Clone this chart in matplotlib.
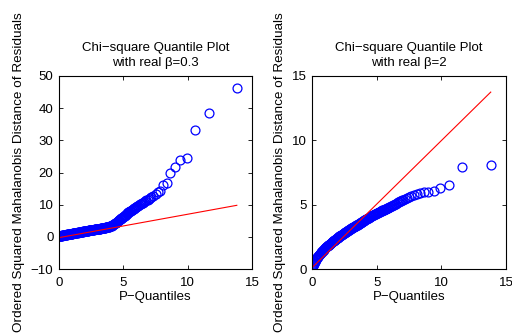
import matplotlib
matplotlib.use("Agg")
import matplotlib.pyplot as plt

plt.rcParams['font.family'] = ['Liberation Sans', 'DejaVu Sans']
plt.rcParams['font.size'] = 9.5

# chi-square (df=2) plotting positions shared by both panels
p_quantiles = [
    0.00, 0.04, 0.08, 0.12, 0.16, 0.20, 0.24, 0.28, 0.32, 0.36,
    0.40, 0.44, 0.48, 0.52, 0.56, 0.60, 0.64, 0.68, 0.72, 0.76,
    0.80, 0.84, 0.88, 0.92, 0.96, 1.00, 1.04, 1.08, 1.12, 1.16,
    1.20, 1.24, 1.28, 1.32, 1.36, 1.40, 1.44, 1.48, 1.52, 1.56,
    1.60, 1.64, 1.68, 1.72, 1.76, 1.80, 1.84, 1.88, 1.92, 1.96,
    2.00, 2.04, 2.08, 2.12, 2.16, 2.20, 2.24, 2.28, 2.32, 2.36,
    2.40, 2.44, 2.48, 2.52, 2.56, 2.60, 2.64, 2.68, 2.72, 2.76,
    2.80, 2.84, 2.88, 2.92, 2.96, 3.00, 3.04, 3.08, 3.12, 3.16,
    3.20, 3.24, 3.28, 3.32, 3.36, 3.40, 3.44, 3.48, 3.52, 3.56,
    3.60, 3.64, 3.68, 3.72, 3.76, 3.80, 3.84, 3.88, 3.92, 3.96,
    4.00, 4.05, 4.10, 4.15, 4.20, 4.25, 4.30, 4.35, 4.40, 4.45,
    4.50, 4.55, 4.60, 4.65, 4.70, 4.75, 4.80, 4.85, 4.90, 4.95,
    5.00, 5.05, 5.10, 5.15, 5.20, 5.25, 5.30, 5.35, 5.40, 5.45,
    5.50, 5.55, 5.60, 5.65, 5.70, 5.75, 5.80, 5.85, 5.90, 5.95,
    6.00, 6.08, 6.16, 6.24, 6.32, 6.40, 6.48, 6.56, 6.64, 6.72,
    6.80, 6.88, 6.96, 7.04, 7.18, 7.33, 7.50, 7.68, 7.88, 8.11,
    8.37, 8.66, 9.00, 9.41, 9.92, 10.60, 11.62, 13.82,
]

# ordered squared Mahalanobis distances, real beta = 0.3
dist_b03 = [
    0.25, 0.28, 0.31, 0.34, 0.37, 0.40, 0.43, 0.46, 0.49, 0.52,
    0.55, 0.58, 0.61, 0.64, 0.67, 0.70, 0.73, 0.76, 0.79, 0.82,
    0.85, 0.88, 0.91, 0.94, 0.97, 1.00, 1.03, 1.06, 1.09, 1.12,
    1.15, 1.18, 1.21, 1.24, 1.27, 1.30, 1.33, 1.36, 1.39, 1.42,
    1.45, 1.48, 1.51, 1.54, 1.57, 1.60, 1.63, 1.66, 1.69, 1.72,
    1.75, 1.78, 1.81, 1.83, 1.86, 1.89, 1.92, 1.95, 1.97, 2.00,
    2.03, 2.06, 2.09, 2.11, 2.14, 2.17, 2.20, 2.23, 2.25, 2.28,
    2.31, 2.34, 2.37, 2.39, 2.42, 2.45, 2.48, 2.51, 2.53, 2.56,
    2.59, 2.62, 2.65, 2.67, 2.70, 2.73, 2.76, 2.79, 2.81, 2.85,
    2.88, 2.91, 2.94, 2.98, 3.01, 3.05, 3.09, 3.13, 3.18, 3.24,
    3.30, 3.40, 3.51, 3.63, 3.75, 3.89, 4.03, 4.17, 4.31, 4.45,
    4.60, 4.77, 4.94, 5.11, 5.28, 5.45, 5.62, 5.79, 5.96, 6.13,
    6.30, 6.46, 6.62, 6.78, 6.94, 7.10, 7.26, 7.42, 7.58, 7.74,
    7.90, 8.04, 8.18, 8.32, 8.46, 8.60, 8.74, 8.88, 9.02, 9.16,
    9.30, 9.49, 9.68, 9.88, 10.07, 10.26, 10.45, 10.67, 10.89, 11.12,
    11.34, 11.56, 11.78, 12.00, 12.40, 12.70, 13.40, 13.90, 14.20, 16.10,
    16.60, 19.70, 21.80, 23.80, 24.40, 33.10, 38.50, 46.20,
]

# ordered squared Mahalanobis distances, real beta = 2
dist_b2 = [
    0.05, 0.22, 0.33, 0.42, 0.50, 0.58, 0.65, 0.72, 0.78, 0.84,
    0.90, 0.95, 1.00, 1.05, 1.10, 1.15, 1.20, 1.24, 1.29, 1.33,
    1.38, 1.42, 1.47, 1.51, 1.56, 1.60, 1.64, 1.68, 1.72, 1.75,
    1.79, 1.83, 1.86, 1.90, 1.93, 1.97, 2.00, 2.04, 2.07, 2.11,
    2.14, 2.17, 2.20, 2.23, 2.26, 2.29, 2.32, 2.35, 2.38, 2.41,
    2.44, 2.47, 2.50, 2.53, 2.56, 2.58, 2.61, 2.64, 2.67, 2.70,
    2.73, 2.76, 2.79, 2.81, 2.84, 2.87, 2.89, 2.92, 2.95, 2.97,
    3.00, 3.03, 3.05, 3.08, 3.10, 3.13, 3.15, 3.18, 3.20, 3.23,
    3.25, 3.28, 3.30, 3.33, 3.35, 3.38, 3.40, 3.43, 3.45, 3.48,
    3.50, 3.53, 3.55, 3.58, 3.61, 3.63, 3.66, 3.68, 3.71, 3.73,
    3.76, 3.79, 3.82, 3.85, 3.88, 3.91, 3.94, 3.97, 4.00, 4.03,
    4.06, 4.09, 4.11, 4.14, 4.17, 4.20, 4.22, 4.25, 4.28, 4.30,
    4.33, 4.35, 4.38, 4.40, 4.43, 4.45, 4.47, 4.50, 4.52, 4.55,
    4.57, 4.60, 4.62, 4.65, 4.67, 4.70, 4.72, 4.75, 4.77, 4.80,
    4.82, 4.86, 4.91, 4.95, 4.99, 5.04, 5.08, 5.12, 5.17, 5.21,
    5.26, 5.30, 5.35, 5.39, 5.45, 5.55, 5.63, 5.70, 5.78, 5.85,
    5.90, 5.95, 5.98, 6.08, 6.32, 6.53, 7.90, 8.06,
]

# reference lines through the first and last quantiles
ref_b03_x = [0.0, 13.82]
ref_b03_y = [-0.25, 9.8]
ref_b2_x = [0.05, 13.82]
ref_b2_y = [0.15, 13.75]

panels = [
    dict(y=dist_b03, lx=ref_b03_x, ly=ref_b03_y, ylim=(-10, 50),
         yticks=[-10, 0, 10, 20, 30, 40, 50], beta="0.3",
         rect=[59 / 512, 67 / 336, 193 / 512, 193 / 336]),
    dict(y=dist_b2, lx=ref_b2_x, ly=ref_b2_y, ylim=(0, 15),
         yticks=[0, 5, 10, 15], beta="2",
         rect=[312 / 512, 67 / 336, 194 / 512, 193 / 336]),
]

fig = plt.figure(figsize=(5.12, 3.36), dpi=100)

for p in panels:
    ax = fig.add_axes(p["rect"])
    ax.plot(p_quantiles, p["y"], linestyle="none", marker="o", markersize=6.4,
            markerfacecolor="none", markeredgecolor=(0, 0, 1), markeredgewidth=0.9)
    ax.plot(p["lx"], p["ly"], color=(1, 0, 0), linewidth=0.8)
    ax.set_xlim(0, 15)
    ax.set_ylim(*p["ylim"])
    ax.set_xticks([0, 5, 10, 15])
    ax.set_yticks(p["yticks"])
    ax.tick_params(direction="in", top=True, right=True, length=3, width=0.6,
                   labelsize=9.5)
    ax.tick_params(axis="x", pad=5.5)
    ax.tick_params(axis="y", pad=4)
    for s in ax.spines.values():
        s.set_linewidth(0.8)
    ax.set_title("Chi\u2212square Quantile Plot\nwith real \u03b2=" + p["beta"],
                 fontsize=9.5, pad=7.5, linespacing=1.3)
    ax.set_xlabel("P\u2212Quantiles", fontsize=9.5, labelpad=2)
    ax.set_ylabel("Ordered Squared Mahalanobis Distance of Residuals",
                  fontsize=9.7, labelpad=4)

fig.savefig("out.png", dpi=100)
